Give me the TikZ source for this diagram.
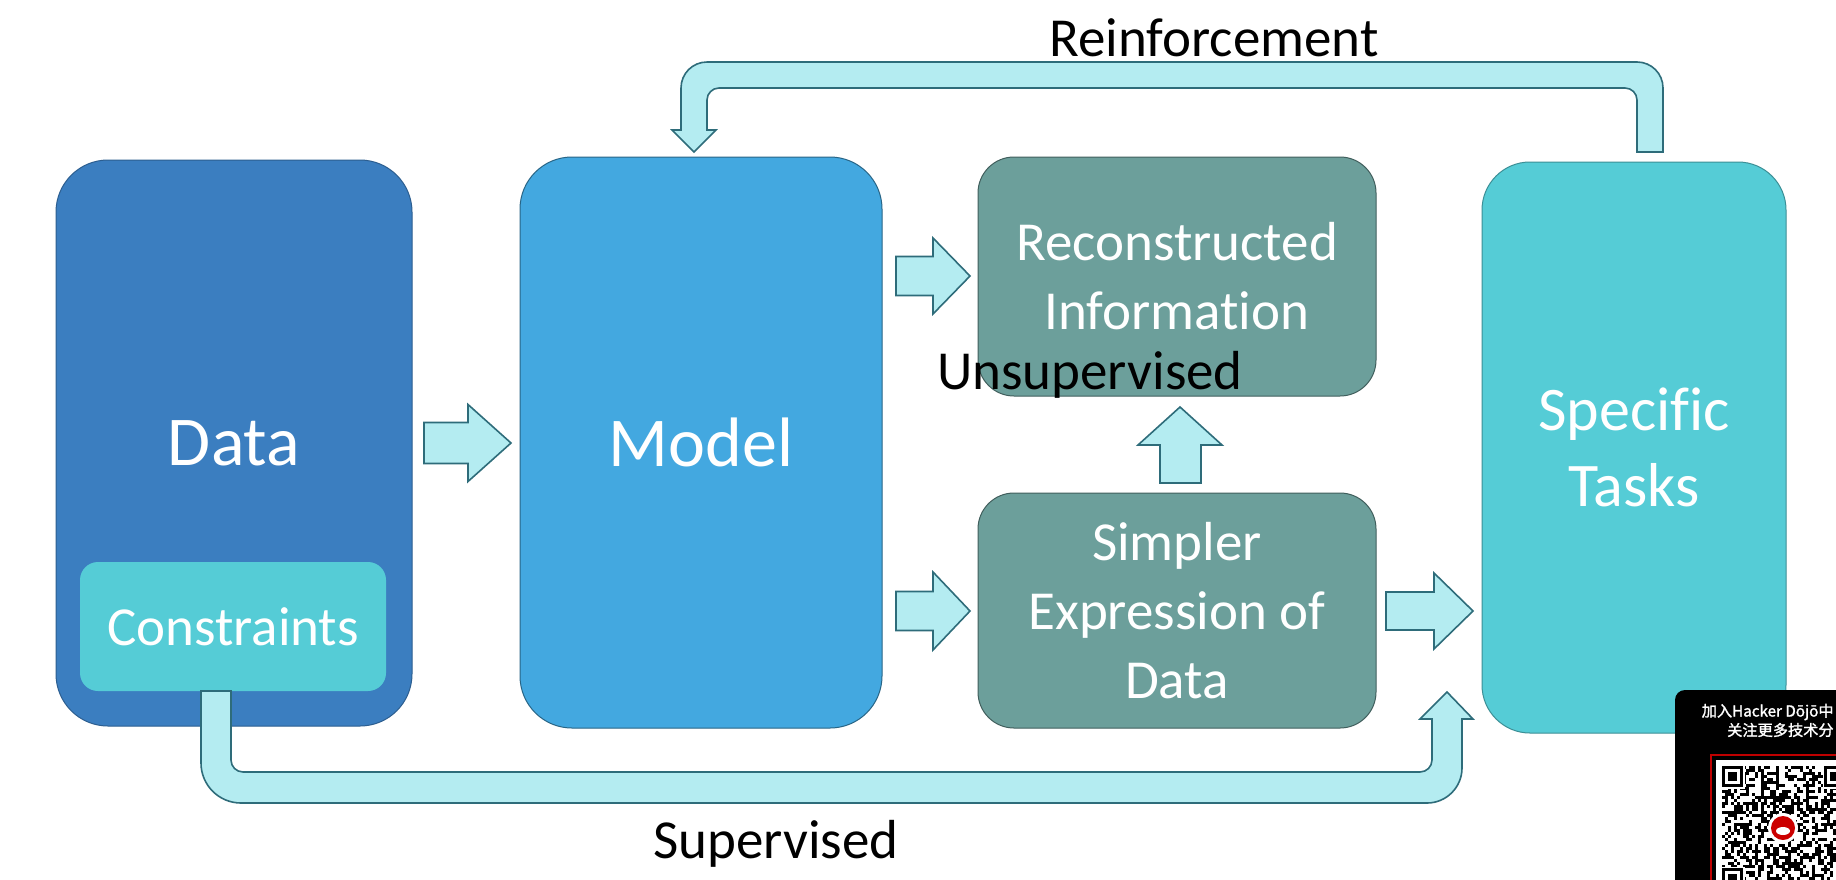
\documentclass[tikz,border=0pt]{standalone}
\usepackage{fontspec}
\setmainfont{Carlito}[Ligatures={NoCommon}]
\newfontfamily\cjk{Noto Sans CJK SC}[FakeBold=1.5]
\definecolor{datablue}{HTML}{3B7EC0}
\definecolor{modelblue}{HTML}{43A8E0}
\definecolor{greyteal}{HTML}{6C9F9B}
\definecolor{tasksteal}{HTML}{55CCD6}
\definecolor{arrowfill}{HTML}{B4ECF1}
\definecolor{arrowline}{HTML}{2E6C7A}
\newcommand\rightblock[6]{%
  \filldraw[blockarrow] (#1,#4-#5) -- (#2,#4-#5) -- (#2,#4-#6) -- (#3,#4) -- (#2,#4+#6) -- (#2,#4+#5) -- (#1,#4+#5) -- cycle;}
\begin{document}
\begin{tikzpicture}[x=0.5pt,y=-0.5pt,
  box/.style={rectangle, inner sep=0pt, text=white, align=center, line width=0.5pt},
  bigtext/.style={font=\fontsize{35}{42}\selectfont},
  midtext/.style={font=\fontsize{27.5}{34.5}\selectfont},
  tasktext/.style={font=\fontsize{31}{38}\selectfont},
  lbl/.style={font=\fontsize{27.5}{33}\selectfont, text=black, inner sep=0pt, anchor=base},
  blockarrow/.style={fill=arrowfill, draw=arrowline, line width=0.8pt, line join=miter}]
\useasboundingbox (0,0) rectangle (1836,879);
\fill[white] (0,0) rectangle (1836,879);

% boxes
\node[box, bigtext, fill=datablue, draw=datablue!75!black, minimum width=178pt, minimum height=283pt, rounded corners=26pt] (data) at (234,443) {Data};
\node[box, midtext, fill=tasksteal, minimum width=153pt, minimum height=64.5pt, rounded corners=9pt] (constr) at (233,626.5) {Constraints};
\node[box, bigtext, fill=modelblue, draw=modelblue!60!black, minimum width=181pt, minimum height=285.5pt, rounded corners=26pt] (model) at (701,442.5) {Model};
\node[box, midtext, fill=greyteal, draw=greyteal!60!black, minimum width=199pt, minimum height=119.5pt, rounded corners=18pt] (recon) at (1177,276.5) {Reconstructed\\Information};
\node[box, midtext, fill=greyteal, draw=greyteal!60!black, minimum width=199pt, minimum height=117.5pt, rounded corners=18pt] (simpler) at (1177,610.5) {Simpler\\Expression of\\Data};
\node[box, tasktext, fill=tasksteal, draw=tasksteal!70!black, minimum width=152pt, minimum height=285.5pt, rounded corners=24pt] (tasks) at (1634,447.5) {Specific\\Tasks};

% straight block arrows
\rightblock{424}{468}{511}{443}{20.5}{38.5}
\rightblock{896}{933}{970}{276}{19.5}{38}
\rightblock{896}{933}{970}{611}{19.5}{39}
\rightblock{1386}{1434}{1473}{611}{19}{38}
% up arrow (simpler -> reconstructed)
\filldraw[blockarrow] (1160,483) -- (1160,445) -- (1138,445) -- (1180,407) -- (1222,445) -- (1201,445) -- (1201,483) -- cycle;

% reinforcement loop
\filldraw[blockarrow] (1637,152) -- (1637,100) .. controls (1637,93.4) and (1631.6,88) .. (1625,88)
  -- (719,88) .. controls (712.4,88) and (707,93.4) .. (707,100)
  -- (707,130) -- (716,130) -- (694,152) -- (672,130) -- (681,130)
  -- (681,88) .. controls (681,73.6) and (692.6,62) .. (707,62)
  -- (1637,62) .. controls (1651.4,62) and (1663,73.6) .. (1663,88)
  -- (1663,152) -- cycle;

% supervised loop
\filldraw[blockarrow] (231,691) -- (231,760) .. controls (231,766.6) and (236.4,772) .. (243,772)
  -- (1420,772) .. controls (1426.6,772) and (1432,766.6) .. (1432,760)
  -- (1432,719) -- (1420,719) -- (1447,692) -- (1473,719) -- (1462,719)
  -- (1462,768) .. controls (1462,787.3) and (1446.3,803) .. (1427,803)
  -- (241,803) .. controls (218.9,803) and (201,785.1) .. (201,763)
  -- (201,691) -- cycle;

% labels
\node[lbl] (reinf) at (1214,56) {Reinforcement};
\node[lbl] (unsup) at (1090,389) {Unsupervised};
\node[lbl] (sup) at (776,858) {Supervised};

% QR overlay
\fill[black, rounded corners=5pt] (1675,690) rectangle (1900,950);
\node[anchor=east, text=white, inner sep=0pt, font=\cjk\fontsize{7.6}{9}\selectfont] (qr1) at (1834,712) {加入Hacker Dōjō中};
\node[anchor=east, text=white, inner sep=0pt, font=\cjk\fontsize{7.6}{9}\selectfont] (qr2) at (1834,730) {关注更多技术分};
\draw[red!75!black, line width=1pt] (1711,755) rectangle (1900,950);
\fill[white] (1716,760) rectangle (1900,950);
\pgfmathsetseed{4242}
\foreach \i in {0,...,38}{\foreach \j in {0,...,38}{%
  \pgfmathrandominteger{\rr}{0}{1}%
  \ifnum\rr=1 \fill[black] (1722+3*\i,766+3*\j) rectangle ++(3,3);\fi}}
\foreach \fx/\fy in {1722/766, 1824/766, 1722/868}{%
  \fill[white] (\fx-1,\fy-1) rectangle ++(24,24);
  \fill[black] (\fx,\fy) rectangle ++(21,21);
  \fill[white] (\fx+3,\fy+3) rectangle ++(15,15);
  \fill[black] (\fx+6,\fy+6) rectangle ++(9,9);}
\fill[white] (1783,828) circle (15);
\fill[red!80!black] (1783,828) circle (12);
\fill[white] (1783,831) ellipse (7 and 4);
\end{tikzpicture}
\end{document}
